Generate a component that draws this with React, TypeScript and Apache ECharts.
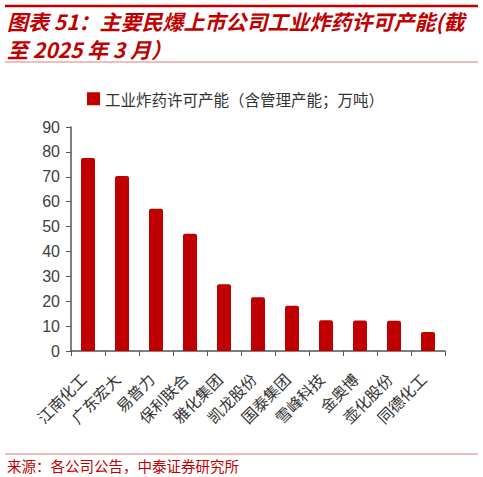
import React, { useEffect, useRef } from "react";
import * as echarts from "echarts";

// Datos (万吨)
const empresas = [
  "江南化工",
  "广东宏大",
  "易普力",
  "保利联合",
  "雅化集团",
  "凯龙股份",
  "国泰集团",
  "雪峰科技",
  "金奥博",
  "壶化股份",
  "同德化工",
];
const capacidad = [77.5, 70.3, 57.2, 47.1, 26.8, 21.6, 18.2, 12.4, 12.3, 12.2, 7.6];
const serieNombre = "工业炸药许可产能（含管理产能；万吨）";
const tituloLinea1 = "图表 51：主要民爆上市公司工业炸药许可产能(截";
const tituloLinea2 = "至 2025 年 3 月）";
const fuente = "来源：各公司公告，中泰证券研究所";

const RED = "#C00000";
const CJK = '"Noto Sans CJK SC", "Liberation Sans", sans-serif';

export default function App() {
  const chartRef = useRef<HTMLDivElement>(null);

  useEffect(() => {
    if (!chartRef.current) return;
    const chart = echarts.init(chartRef.current, undefined, { renderer: "svg" });

    chart.setOption({
      animation: false,
      backgroundColor: "#fff",
      grid: { left: 71, right: 38, top: 127, bottom: 126, containLabel: false },
      legend: {
        left: 82,
        top: 86,
        itemWidth: 13,
        itemHeight: 13,
        itemGap: 5,
        icon: "rect",
        textStyle: { fontSize: 15.5, color: "#333", fontFamily: CJK },
        data: [serieNombre],
      },
      xAxis: {
        type: "category",
        data: empresas,
        axisLine: { lineStyle: { color: "#555", width: 1.5 } },
        axisTick: { show: true, length: 5, lineStyle: { color: "#555" } },
        axisLabel: {
          rotate: 45,
          interval: 0,
          margin: 20,
          padding: [0, 7, 0, 0],
          fontSize: 15.5,
          color: "#333",
          fontFamily: CJK,
        },
      },
      yAxis: {
        type: "value",
        min: 0,
        max: 90,
        interval: 10,
        splitLine: { show: false },
        axisLine: { show: true, lineStyle: { color: "#555", width: 1.5 } },
        axisTick: { show: true, length: 5, lineStyle: { color: "#555" } },
        axisLabel: {
          margin: 11,
          fontSize: 16,
          color: "#404040",
          fontFamily: '"Liberation Sans", Arial, sans-serif',
        },
      },
      series: [
        {
          name: serieNombre,
          type: "bar",
          data: capacidad,
          barWidth: 14,
          itemStyle: { color: RED, borderRadius: [2, 2, 0, 0] },
        },
      ],
      graphic: [
        {
          type: "line",
          shape: { x1: 5, y1: 6, x2: 478, y2: 6 },
          style: { stroke: RED, lineWidth: 2.5 },
        },
        {
          type: "text",
          left: 7,
          top: 10,
          style: {
            text: tituloLinea1,
            fill: RED,
            font: `italic bold 21px ${CJK}`,
            lineHeight: 22,
          },
        },
        {
          type: "text",
          left: 7,
          top: 38,
          style: {
            text: tituloLinea2,
            fill: RED,
            font: `italic bold 21px ${CJK}`,
            lineHeight: 22,
          },
        },
        {
          type: "line",
          shape: { x1: 5, y1: 62, x2: 478, y2: 62 },
          style: { stroke: "#D98080", lineWidth: 1 },
        },
        {
          type: "line",
          shape: { x1: 5, y1: 454, x2: 478, y2: 454 },
          style: { stroke: "#D98080", lineWidth: 1 },
        },
        {
          type: "text",
          left: 7,
          top: 457,
          style: {
            text: fuente,
            fill: RED,
            font: `14.5px ${CJK}`,
            lineHeight: 17,
          },
        },
      ],
    });

    return () => {
      chart.dispose();
    };
  }, []);

  return (
    <div
      ref={chartRef}
      style={{ position: "fixed", left: 0, top: 0, width: 483, height: 477 }}
    />
  );
}
